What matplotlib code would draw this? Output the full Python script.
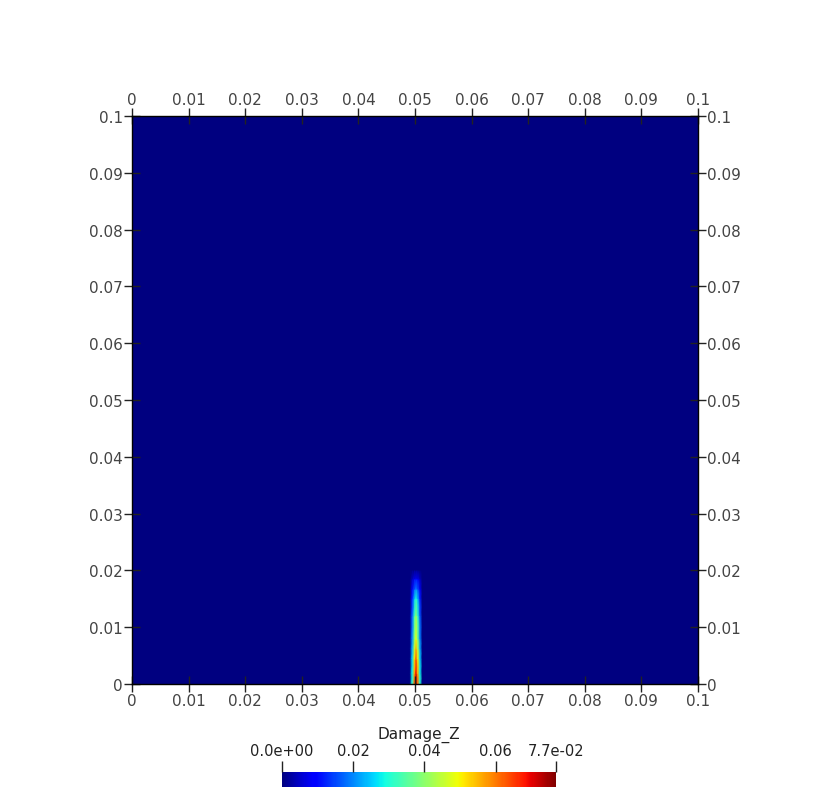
import numpy as np
import matplotlib
matplotlib.use("Agg")
import matplotlib.pyplot as plt

plt.rcParams["font.family"] = ["DejaVu Sans"]

# domain
x_lim = [0.0, 0.1]
y_lim = [0.0, 0.1]
ticks = [0, 0.01, 0.02, 0.03, 0.04, 0.05, 0.06, 0.07, 0.08, 0.09, 0.1]
tick_labels = ["0", "0.01", "0.02", "0.03", "0.04", "0.05", "0.06", "0.07", "0.08", "0.09", "0.1"]

# crack: centre-line damage
crack_x = 0.0502
heights = [0.0, 0.0018, 0.0044, 0.0062, 0.0079, 0.012, 0.015, 0.0167, 0.0185, 0.0201, 0.1]
peak_damage = [0.077, 0.070, 0.063, 0.056, 0.049, 0.040, 0.030, 0.020, 0.010, 0.0, 0.0]
# lateral profile across the crack (offset from centre, fraction of peak)
offsets = [-0.0502, -0.0011, -0.0007, -0.0003, 0.0, 0.0003, 0.0007, 0.0011, 0.0498]
fractions = [0.0, 0.0, 0.4, 0.8, 1.0, 0.8, 0.4, 0.0, 0.0]

vmin, vmax = 0.0, 0.077
cbar_ticks = [0.0, 0.02, 0.04, 0.06, 0.077]
cbar_labels = ["0.0e+00", "0.02", "0.04", "0.06", "7.7e-02"]

X = crack_x + np.array(offsets)
Y = np.array(heights)
Z = np.outer(peak_damage, fractions)

fig = plt.figure(figsize=(8.32, 8.03), dpi=100)
ax = fig.add_axes([132 / 832, 1 - 685 / 803, 566 / 832, 568 / 803])
mesh = ax.pcolormesh(X, Y, Z, cmap="jet", vmin=vmin, vmax=vmax, shading="gouraud")
ax.set_xlim(x_lim)
ax.set_ylim(y_lim)
ax.set_xticks(ticks)
ax.set_xticklabels(tick_labels)
ax.set_yticks(ticks)
ax.set_yticklabels(tick_labels)
ax.tick_params(direction="inout", length=11, width=1, colors="#222222",
               labelcolor="#444444", labelsize=11, pad=1,
               top=True, right=True, labeltop=True, labelright=True)
for s in ax.spines.values():
    s.set_linewidth(1)
    s.set_color("black")

cax = fig.add_axes([282 / 832, 1 - 788 / 803, 274 / 832, 15 / 803])
cb = fig.colorbar(mesh, cax=cax, orientation="horizontal")
cb.outline.set_visible(False)
cax.xaxis.set_ticks_position("top")
cax.xaxis.set_label_position("top")
cb.set_ticks(cbar_ticks)
cb.set_ticklabels(cbar_labels)
cax.tick_params(direction="out", length=8, width=1, colors="#222222",
                labelcolor="#222222", labelsize=10.5, pad=2)
cb.set_label("Damage_Z", fontsize=11, color="#222222", labelpad=4)

fig.savefig("out.png", dpi=100)
